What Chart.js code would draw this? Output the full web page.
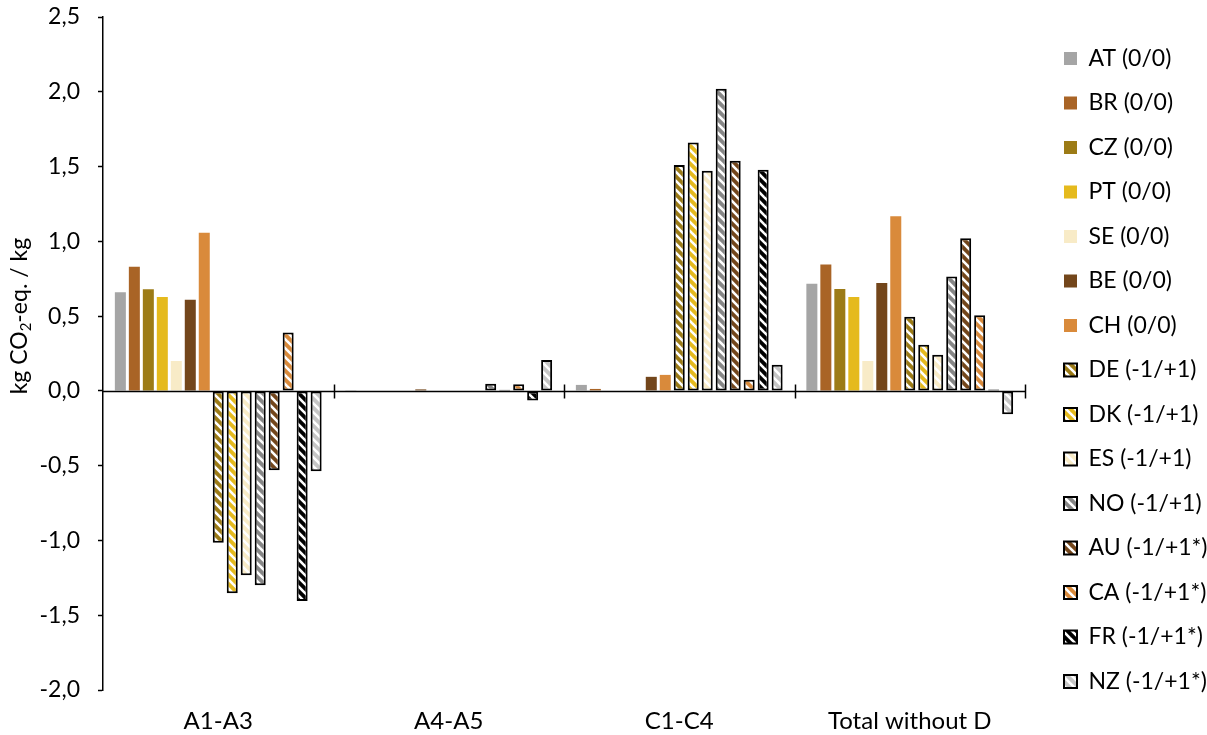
<!DOCTYPE html>
<html><head><meta charset="utf-8">
<script src="https://cdn.jsdelivr.net/npm/chart.js@4.4.1/dist/chart.umd.min.js"></script>
<style>html,body{margin:0;padding:0;background:#fff;}#wrap{width:1207px;height:735px;}</style>
</head><body><div id="wrap"><canvas id="c" width="1207" height="735"></canvas></div>
<script>
// ---------- data ----------
const categories = ['A1-A3', 'A4-A5', 'C1-C4', 'Total without D'];
const yTicks = [-2.0, -1.5, -1.0, -0.5, 0.0, 0.5, 1.0, 1.5, 2.0, 2.5];
const seriesNames = ['AT (0/0)', 'BR (0/0)', 'CZ (0/0)', 'PT (0/0)', 'SE (0/0)', 'BE (0/0)', 'CH (0/0)',
  'DE (-1/+1)', 'DK (-1/+1)', 'ES (-1/+1)', 'NO (-1/+1)', 'AU (-1/+1*)', 'CA (-1/+1*)', 'FR (-1/+1*)', 'NZ (-1/+1*)'];
const AT = [0.66, 0.005, 0.04, 0.716];
const BR = [0.83, 0, 0.013, 0.845];
const CZ = [0.68, 0, 0, 0.682];
const PT = [0.627, 0, 0, 0.627];
const SE = [0.20, 0, 0, 0.20];
const BE = [0.61, 0.01, 0.094, 0.722];
const CH = [1.057, 0, 0.107, 1.168];
const DE = [-1.015, 0, 1.51, 0.495];
const DK = [-1.353, 0, 1.661, 0.308];
const ES = [-1.233, 0, 1.472, 0.241];
const NO = [-1.30, 0.047, 2.02, 0.765];
const AU = [-0.53, 0.008, 1.538, 1.021];
const CA = [0.39, 0.045, 0.074, 0.506];
const FR = [-1.405, -0.065, 1.478, 0.009];
const NZ = [-0.537, 0.207, 0.174, -0.156];
const seriesValues = [AT, BR, CZ, PT, SE, BE, CH, DE, DK, ES, NO, AU, CA, FR, NZ];

// ---------- styles ----------
const seriesColors = ['#A5A5A5', '#A96426', '#9C7B16', '#E5BA1D', '#F8EBC7', '#73461B', '#D98A3B',
  '#9C7B16', '#E5BA1D', '#F8EBC7', '#878787', '#73461B', '#D98A3B', '#000000', '#C6C6C6'];
const seriesStriped = [false, false, false, false, false, false, false,
  true, true, true, true, true, true, true, true];

function stripePattern(color) {
  const s = 9;
  const c = document.createElement('canvas');
  c.width = s; c.height = s;
  const g = c.getContext('2d');
  g.fillStyle = color; g.fillRect(0, 0, s, s);
  g.strokeStyle = '#FFFFFF'; g.lineWidth = 2.6;
  for (const o of [-s, 0, s]) {
    g.beginPath(); g.moveTo(o - 1, -1); g.lineTo(o + s + 1, s + 1); g.stroke();
  }
  return g.createPattern(c, 'repeat');
}

const FONT = 'Lato';
const datasets = seriesNames.map((name, i) => ({
  label: name,
  data: seriesValues[i],
  backgroundColor: seriesStriped[i] ? stripePattern(seriesColors[i]) : seriesColors[i],
  borderColor: '#000000',
  borderWidth: seriesStriped[i] ? 2 : 0,
  borderSkipped: false,
  categoryPercentage: 0.91,
  barPercentage: 0.787
}));

const LEGEND_RESERVED = 182;  // width right of plot area
const LEGEND_OFFSET = 39;     // legend box x minus plot right
const LEGEND_DY = -6;         // vertical nudge of legend

const layoutFix = {
  id: 'layoutFix',
  beforeLayout(chart) {
    const lg = chart.legend;
    if (lg && !lg._patched) {
      const orig = lg.fit;
      lg.fit = function () { orig.call(this); this.width = LEGEND_RESERVED; };
      lg._patched = true;
    }
  },
  afterLayout(chart) {
    const lg = chart.legend;
    const pad = lg.options.labels.padding;
    const dx = chart.chartArea.right + LEGEND_OFFSET - pad - lg.left;
    lg.left += dx; lg.right += dx;
    lg.top += LEGEND_DY; lg.bottom += LEGEND_DY;
  }
};

const zeroAxis = {
  id: 'zeroAxis',
  afterDatasetsDraw(chart) {
    const {ctx, chartArea} = chart;
    const x = chart.scales.x, y = chart.scales.y;
    const y0 = Math.round(y.getPixelForValue(0)) + 0.5;
    ctx.save();
    ctx.strokeStyle = '#000'; ctx.lineWidth = 1.5;
    ctx.beginPath(); ctx.moveTo(chartArea.left, y0); ctx.lineTo(chartArea.right, y0); ctx.stroke();
    for (let i = 1; i <= categories.length; i++) {
      const bx = Math.round(x.getPixelForValue(i - 0.5)) + 0.5;
      ctx.beginPath(); ctx.moveTo(bx, y0 - 7); ctx.lineTo(bx, y0 + 7); ctx.stroke();
    }
    ctx.restore();
  },
  afterDraw(chart) {
    const {ctx} = chart;
    const y = chart.scales.y;
    const cy = y.getPixelForValue(0.5);
    const parts = [['kg CO', 23, 0], ['2', 15, 6], ['-eq. / kg', 23, 0]];
    ctx.save();
    ctx.fillStyle = '#000';
    ctx.textBaseline = 'middle';
    let total = 0;
    for (const p of parts) { ctx.font = p[1] + 'px ' + FONT; total += ctx.measureText(p[0]).width; }
    ctx.translate(20, cy);
    ctx.rotate(-Math.PI / 2);
    let cx = -total / 2;
    for (const p of parts) {
      ctx.font = p[1] + 'px ' + FONT;
      ctx.fillText(p[0], cx, p[2]);
      cx += ctx.measureText(p[0]).width;
    }
    ctx.restore();
  }
};

new Chart(document.getElementById('c'), {
  type: 'bar',
  data: { labels: categories, datasets },
  plugins: [layoutFix, zeroAxis],
  options: {
    responsive: false,
    animation: false,
    devicePixelRatio: 1,
    layout: { padding: { top: 17, bottom: 0, left: 0, right: 0 } },
    plugins: {
      tooltip: { enabled: false },
      legend: {
        position: 'right',
        align: 'center',
        labels: {
          font: { family: FONT, size: 23 },
          color: '#000',
          boxWidth: 13,
          boxHeight: 13,
          padding: 21.5
        }
      }
    },
    scales: {
      x: {
        afterFit: s => { s.height = 45; },
        grid: { display: false, drawTicks: false, tickLength: 0 },
        border: { display: false },
        ticks: { font: { family: FONT, size: 24 }, color: '#000', padding: 17 }
      },
      y: {
        min: -2.0,
        max: 2.5,
        afterBuildTicks: s => { s.ticks = yTicks.map(v => ({ value: v })); },
        afterFit: s => { s.width = 103; s.paddingTop = 0; s.paddingBottom = 0; },
        grid: { drawOnChartArea: false, tickLength: 5, tickColor: '#000', tickWidth: 1.5 },
        border: { display: true, color: '#000', width: 1.5 },
        ticks: {
          font: { family: FONT, size: 23 }, color: '#000', padding: 18,
          callback: v => v.toFixed(1).replace('.', ',')
        }
      }
    }
  }
});
</script>
</body></html>
